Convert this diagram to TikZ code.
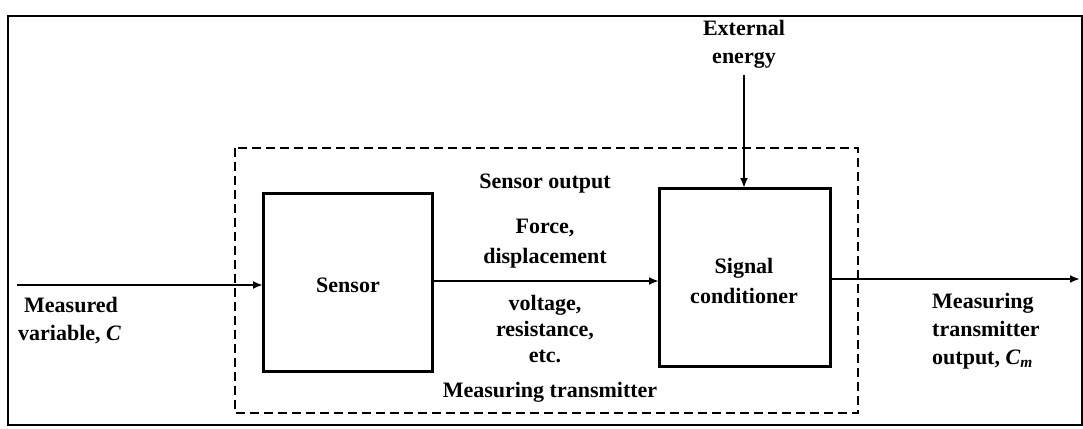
\documentclass[tikz,border=0pt]{standalone}
\usepackage{fontspec}
\setmainfont{Liberation Serif}
\usetikzlibrary{arrows.meta}
\begin{document}
\begin{tikzpicture}[x=1pt,y=-1pt,
  lbl/.style={inner sep=0pt,font=\fontsize{22}{28}\selectfont\bfseries,align=center},
  blk/.style={draw,line width=3pt,minimum width=0pt},
  conn/.style={line width=2pt,-{Latex[length=10pt,width=8pt]}},
  frame/.style={line width=2pt},
  dash box/.style={line width=2pt,dash pattern=on 9pt off 5pt}]
\useasboundingbox (0,0) rectangle (1083,428);
% outer frame
\draw[frame] (8,16) rectangle (1082,425);
% dashed enclosure
\draw[dash box] (235,148) rectangle (858,413);
% blocks
\draw[blk] (263,193) rectangle (432,371);
\node[lbl] (sensor) at (348,285) {Sensor};
\coordinate (sensorW) at (263,285);
\coordinate (sensorE) at (432,281);
\draw[blk] (659,188) rectangle (830,366);
\node[lbl,font=\fontsize{22}{30}\selectfont\bfseries] (cond) at (744,281) {Signal\\conditioner};
\coordinate (condW) at (659,281);
\coordinate (condN) at (744,188);
\coordinate (condE) at (830,279);
% connectors
\coordinate (in) at (17,285);
\coordinate (out) at (1080,279);
\coordinate (ext) at (744,75);
\draw[conn] (in) -- (sensorW);
\draw[conn] (sensorE) -- (condW);
\draw[conn] (ext) -- (condN);
\draw[conn] (condE) -- (out);
% labels
\node[lbl] (extlbl) at (744,44) {External\\energy};
\node[lbl,align=left,anchor=west] (mv) at (18,321) {\hspace*{6pt}Measured\\variable, \textit{C}};
\node[lbl] (so) at (545,184) {Sensor output};
\node[lbl,font=\fontsize{22}{30}\selectfont\bfseries] (fd) at (545,244) {Force,\\displacement};
\node[lbl,font=\fontsize{22}{26}\selectfont\bfseries] (vr) at (545,329) {voltage,\\resistance,\\etc.};
\node[lbl] (mt) at (550,392) {Measuring transmitter};
\node[lbl,align=left,anchor=west] (mto) at (932,331) {Measuring\\transmitter\\output, \textit{C}\textsubscript{\textit{m}}};
\end{tikzpicture}
\end{document}
